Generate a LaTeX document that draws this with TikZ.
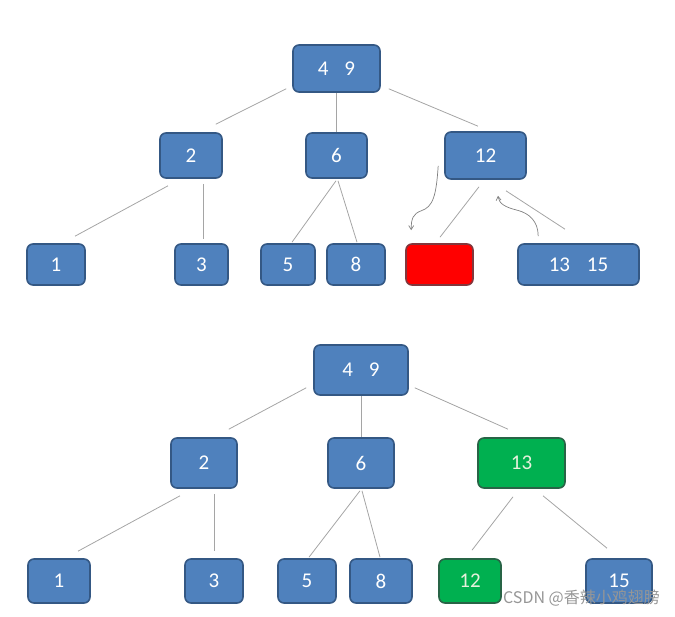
\documentclass[tikz,border=0pt]{standalone}
\usepackage{fontspec}
\setmainfont{Carlito}
\newfontfamily\cjkfont{Noto Sans CJK SC}
\usetikzlibrary{calc,arrows.meta}
\definecolor{boxblue}{RGB}{79,129,189}
\definecolor{boxblueedge}{RGB}{52,88,132}
\definecolor{boxgreen}{RGB}{0,176,80}
\definecolor{boxgreenedge}{RGB}{40,100,70}
\definecolor{greentext}{RGB}{230,240,220}
\definecolor{boxred}{RGB}{255,0,0}
\definecolor{boxrededge}{RGB}{130,55,60}
\definecolor{linkgray}{RGB}{165,165,165}
\definecolor{wmgray}{RGB}{150,150,150}
\begin{document}
\begin{tikzpicture}[x=1pt,y=-1pt,
  box/.style={draw=boxblueedge, fill=boxblue, line width=1.6pt, rounded corners=6pt,
    inner sep=0pt, minimum height=#1, text=white, font=\fontsize{21}{24}\selectfont},
  box/.default=45pt,
  gbox/.style={box=50pt, draw=boxgreenedge, fill=boxgreen, text=greentext},
  rbox/.style={box=41pt, draw=boxrededge, fill=boxred},
  link/.style={draw=linkgray, line width=0.8pt},
  swirl/.style={draw=gray, line width=0.7pt, -{Straight Barb[length=4pt,width=5pt]}}
]
\useasboundingbox (0,0) rectangle (675,617);

% ---------- top tree ----------
\node[box=47pt, minimum width=87pt] (r1) at (336.5,68.5) {4\hspace{0.75em}9};
\node[box, minimum width=62pt] (a2) at (191,155.5) {2};
\node[box, minimum width=61pt] (a6) at (336.5,155.5) {6};
\node[box=47pt, minimum width=81pt] (a12) at (485.5,155.5) {12};
\node[box=41pt, minimum width=58pt] (a1) at (56,264.5) {1};
\node[box=41pt, minimum width=53pt] (a3) at (201.5,264.5) {3};
\node[box=41pt, minimum width=54pt] (a5) at (288,264.5) {5};
\node[box=41pt, minimum width=58pt] (a8) at (356,264.5) {8};
\node[rbox, minimum width=67pt] (ared) at (439.5,264.5) {};
\node[box=41pt, minimum width=121pt] (a1315) at (578.5,264.5) {13\hspace{0.8em}15};

\draw[link] ($(r1.south west)+(-6,-4)$) -- ($(a2.north east)+(-7,-8)$);
\draw[link] (r1.south) -- (a6.north);
\draw[link] ($(r1.south east)+(8,-4)$) -- ($(a12.north)+(-7.5,-5)$);
\draw[link] ($(a2.south)+(-23,7)$) -- ($(a1.north)+(19,-7)$);
\draw[link] ($(a2.south)+(12,5)$) -- ($(a3.north)+(1.5,-4)$);
\draw[link] ($(a6.south)+(-0.5,2)$) -- ($(a5.north)+(4,-1)$);
\draw[link] ($(a6.south)+(1.5,2)$) -- ($(a8.north)+(1,-1)$);
\draw[link] ($(a12.south)+(-6.5,7)$) -- ($(ared.north)+(0.5,-6)$);
\draw[link] ($(a12.south)+(20.5,11)$) -- ($(a1315.north)+(-13.5,-14)$);

\coordinate (s1) at ($(a12.south west)+(-6,-14)$);
\coordinate (e1) at ($(ared.north west)+(6,-13)$);
\draw[swirl] (s1) .. controls +(-2,30) and +(12,-4) .. ($(s1)+(-17,45)$)
  .. controls +(-8,3) and +(0,-12) .. (e1);
\coordinate (s2) at ($(a1315.north west)+(21,-7)$);
\coordinate (e2) at ($(a12.south)+(12.5,16)$);
\draw[swirl] (s2) .. controls +(0,-15) and +(12,3) .. ($(s2)+(-21,-26)$)
  .. controls +(-12,-3) and +(1,8) .. (e2);

% ---------- bottom tree ----------
\node[box=50pt, minimum width=94pt] (br) at (361,370) {4\hspace{0.75em}9};
\node[box=50pt, minimum width=66pt] (b2) at (204,463) {2};
\node[box=50pt, minimum width=66pt] (b6) at (361,463) {6};
\node[gbox, minimum width=87pt] (b13) at (521.5,463) {13};
\node[box=44pt, minimum width=62pt] (b1) at (59,581) {1};
\node[box=44pt, minimum width=58pt] (b3) at (214,581) {3};
\node[box=44pt, minimum width=58pt] (b5) at (307,581) {5};
\node[box=44pt, minimum width=62pt] (b8) at (381,581) {8};
\node[gbox, minimum height=44pt, minimum width=62pt] (b12) at (470,581) {12};
\node[box=44pt, minimum width=66pt] (b15) at (619,581) {15};

\draw[link] ($(br.south west)+(-7,-8)$) -- ($(b2.north east)+(-9,-8)$);
\draw[link] (br.south) -- (b6.north);
\draw[link] ($(br.south east)+(6,-8)$) -- ($(b13.north)+(-13.5,-8)$);
\draw[link] ($(b2.south)+(-24,7)$) -- ($(b1.north)+(19,-7)$);
\draw[link] ($(b2.south)+(10,5)$) -- ($(b3.north)+(0,-7)$);
\draw[link] ($(b6.south)+(-1,2)$) -- ($(b5.north)+(2,-1)$);
\draw[link] ($(b6.south)+(1,2)$) -- ($(b8.north)+(-1,-1)$);
\draw[link] ($(b13.south)+(-8.5,8)$) -- ($(b12.north)+(2,-8)$);
\draw[link] ($(b13.south)+(21.5,7)$) -- ($(b15.north)+(-12,-10)$);

% watermark
\node[anchor=east, inner sep=0pt, text=wmgray, font=\cjkfont\fontsize{16}{18}\selectfont]
  (wm) at (660,598) {CSDN @香辣小鸡翅膀};
\end{tikzpicture}
\end{document}
